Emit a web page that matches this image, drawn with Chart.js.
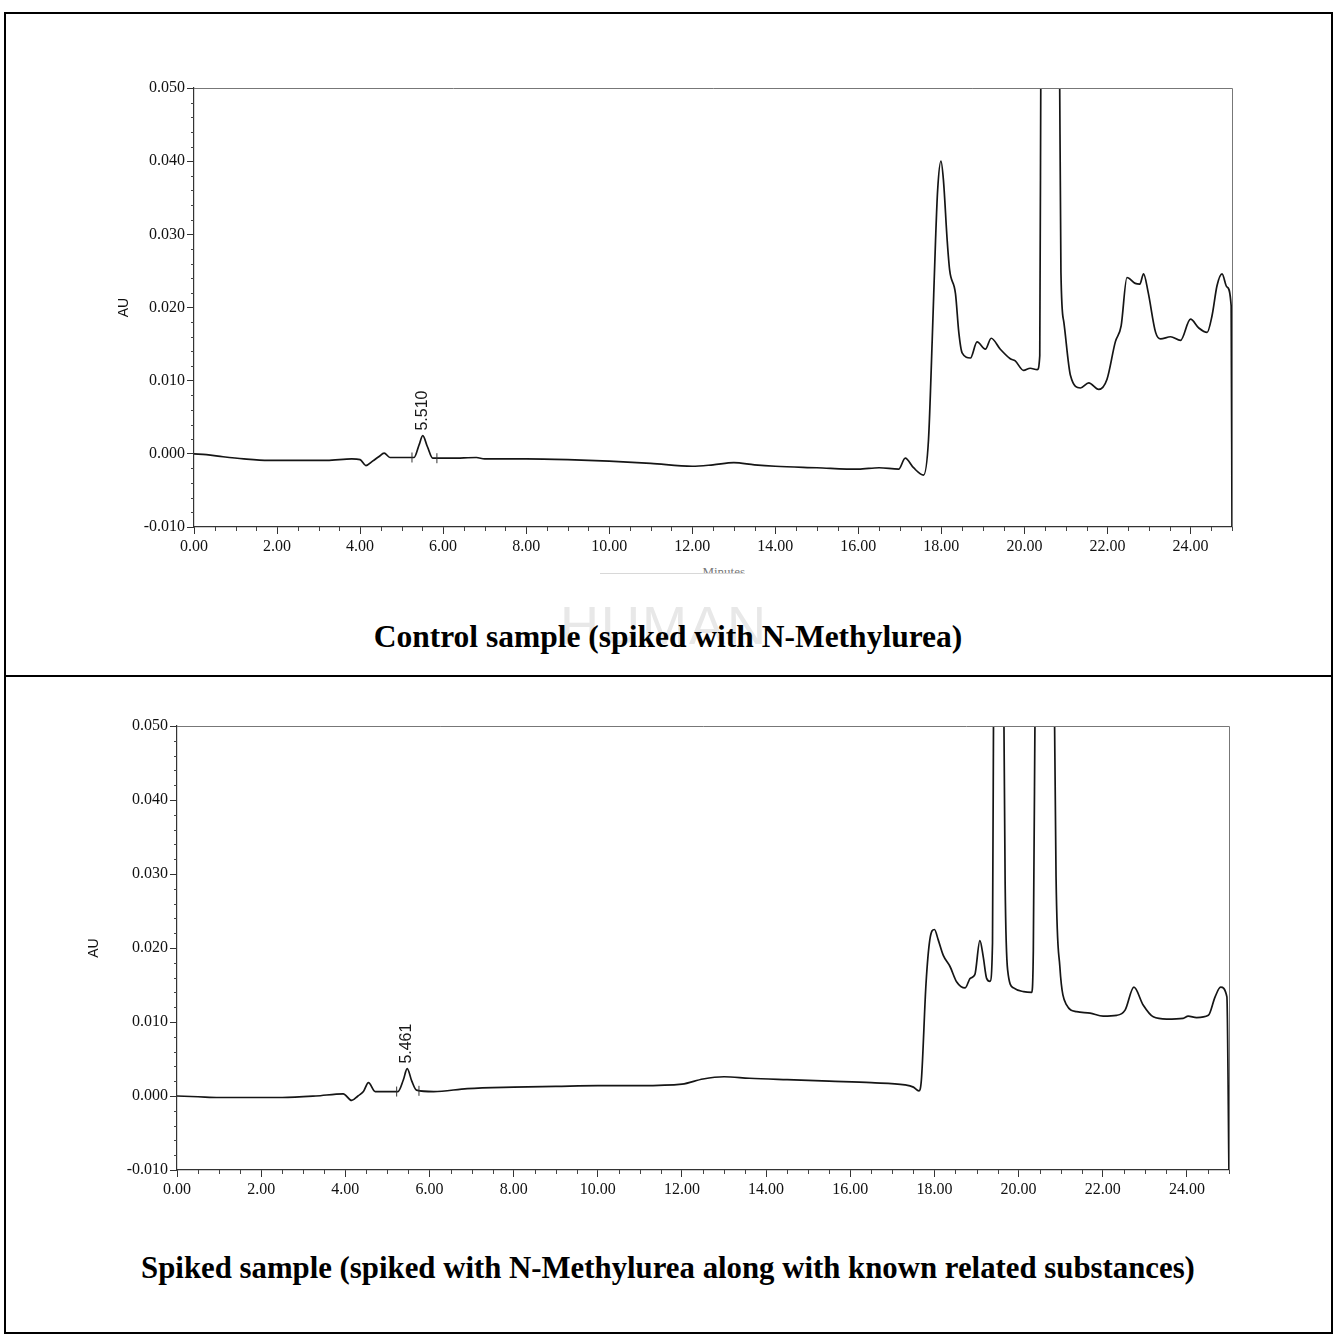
<!DOCTYPE html>
<html>
<head>
<meta charset="utf-8">
<script src="https://cdn.jsdelivr.net/npm/chart.js@4/dist/chart.umd.min.js"></script>
<style>
  html, body { margin:0; padding:0; background:#fff; }
  body { width:1336px; height:1338px; position:relative; overflow:hidden; }
  .line { position:absolute; background:#000; }
  .box { position:absolute; }
  .title { position:absolute; left:0; width:1336px; text-align:center;
           font-family:"Liberation Serif","Times New Roman",serif; font-weight:bold;
           font-size:31.5px; line-height:34px; color:#000; }
  .wm { position:absolute; left:560px; top:598px; width:230px; height:50px; overflow:hidden;
        font-family:"Liberation Sans",Arial,sans-serif; font-size:54px; line-height:54px;
        color:#e8e8e8; letter-spacing:2px; }
  .minutes { position:absolute; left:600px; top:563px; width:145px; height:10px; overflow:hidden;
             border-bottom:1px solid #d8d8d8; text-align:right;
             font-family:"Liberation Serif",serif; font-size:13px; line-height:18px; color:#777; }
</style>
</head>
<body>
<!-- outer table frame -->
<div class="line" style="left:4px;top:12px;width:1329px;height:2px"></div>
<div class="line" style="left:4px;top:1332px;width:1329px;height:2px"></div>
<div class="line" style="left:4px;top:12px;width:2px;height:1322px"></div>
<div class="line" style="left:1331px;top:12px;width:2px;height:1322px"></div>
<div class="line" style="left:4px;top:675px;width:1329px;height:2px"></div>

<div class="wm">HUMAN</div>
<div class="minutes">Minutes</div>

<div class="box" style="left:0;top:40px;width:1336px;height:540px"><canvas id="c1"></canvas></div>
<div class="box" style="left:0;top:690px;width:1336px;height:520px"><canvas id="c2"></canvas></div>

<div class="title" style="top:620px">Control sample (spiked with N-Methylurea)</div>
<div class="title" style="top:1251px;font-size:30.8px">Spiked sample (spiked with N-Methylurea along with known related substances)</div>

<script>
// ---------- DATA ----------
const xTickValues = [0, 2, 4, 6, 8, 10, 12, 14, 16, 18, 20, 22, 24];
const yTickValues = [-0.010, 0.000, 0.010, 0.020, 0.030, 0.040, 0.050];

// Control sample chromatogram (time in minutes, absorbance in AU)
const controlTime = [0.0,0.3,0.7,1.2,1.8,2.5,3.2,3.8,4.0,4.14,4.3,4.45,4.58,4.72,5.0,5.3,5.42,5.51,5.62,5.75,6.2,6.8,7.0,8.0,9.0,10.0,11.0,12.0,12.5,13.0,13.5,14.0,15.0,16.0,16.5,16.97,17.13,17.33,17.57,17.69,17.78,17.86,17.91,17.99,18.05,18.14,18.20,18.34,18.42,18.50,18.70,18.86,19.06,19.20,19.42,19.66,19.78,19.98,20.14,20.31,20.37,20.40,20.60,20.84,20.88,20.95,21.11,21.35,21.55,21.79,21.99,22.19,22.33,22.47,22.67,22.78,22.87,22.98,23.16,23.28,23.52,23.76,24.00,24.20,24.40,24.52,24.64,24.76,24.88,24.98,25.00];
const controlAU = [0.0000,-0.0001,-0.0004,-0.0007,-0.0009,-0.0009,-0.0009,-0.0007,-0.0008,-0.0016,-0.0010,-0.0004,0.0001,-0.0005,-0.0005,-0.0005,0.0012,0.0025,0.0010,-0.0006,-0.0006,-0.0005,-0.0007,-0.0007,-0.0008,-0.0010,-0.0013,-0.0017,-0.0015,-0.0012,-0.0015,-0.0017,-0.0019,-0.0021,-0.0019,-0.0021,-0.0006,-0.0019,-0.0029,0.0019,0.0156,0.0292,0.0360,0.0400,0.0374,0.0292,0.0251,0.0219,0.0166,0.0138,0.0131,0.0153,0.0143,0.0158,0.0143,0.0130,0.0127,0.0114,0.0117,0.0115,0.0134,0.0600,0.1500,0.0600,0.0248,0.0180,0.0107,0.0090,0.0097,0.0088,0.0102,0.0153,0.0175,0.0241,0.0233,0.0232,0.0246,0.0221,0.0166,0.0157,0.0160,0.0155,0.0184,0.0172,0.0166,0.0189,0.0230,0.0246,0.0228,0.0202,-0.0110];
const controlPeakTime = 5.510, controlPeakAU = 0.0025;
const controlPeakBounds = [[5.25,-0.0005],[5.85,-0.0006]];

// Spiked sample chromatogram
const spikedTime = [0.0,0.5,1.0,1.5,2.5,3.3,3.95,4.15,4.3,4.43,4.55,4.71,5.0,5.25,5.38,5.47,5.58,5.69,6.1,6.9,8.0,9.0,10.0,11.0,12.0,12.5,13.0,13.6,14.5,15.5,16.5,17.3,17.5,17.63,17.69,17.80,17.89,18.00,18.09,18.21,18.37,18.53,18.73,18.85,18.96,19.08,19.16,19.24,19.32,19.38,19.41,19.52,19.64,19.68,19.74,19.88,20.12,20.31,20.35,20.40,20.62,20.84,20.89,20.98,21.14,21.38,21.70,22.01,22.33,22.53,22.74,22.96,23.20,23.52,23.91,24.03,24.23,24.51,24.67,24.80,24.95,25.00];
const spikedAU = [0.0000,-0.0001,-0.0002,-0.0002,-0.0002,0.0000,0.0003,-0.0006,0.0000,0.0006,0.0018,0.0006,0.0006,0.0006,0.0022,0.0037,0.0020,0.0008,0.0006,0.0010,0.0012,0.0013,0.0014,0.0014,0.0016,0.0023,0.0026,0.0024,0.0022,0.0020,0.0018,0.0015,0.0012,0.0007,0.0022,0.0152,0.0211,0.0225,0.0211,0.0190,0.0175,0.0154,0.0146,0.0159,0.0164,0.0210,0.0188,0.0159,0.0155,0.0207,0.0600,0.1200,0.0600,0.0288,0.0170,0.0146,0.0141,0.0140,0.0197,0.0600,0.1500,0.0600,0.0296,0.0175,0.0123,0.0114,0.0112,0.0108,0.0109,0.0116,0.0147,0.0123,0.0107,0.0104,0.0105,0.0108,0.0106,0.0109,0.0134,0.0147,0.0134,-0.0110];
const spikedPeakTime = 5.461, spikedPeakAU = 0.0037;
const spikedPeakBounds = [[5.22,0.0006],[5.75,0.0007]];

// ---------- DRAWING ----------
const decorPlugin = {
  id: 'decor',
  afterDatasetsDraw(chart, args, opts) {
    const ctx = chart.ctx, ca = chart.chartArea;
    const xs = chart.scales.x, ys = chart.scales.y;
    ctx.save();
    // frame top/right
    ctx.strokeStyle = '#777'; ctx.lineWidth = 1;
    ctx.beginPath();
    ctx.moveTo(ca.left, ca.top + 0.5); ctx.lineTo(ca.right + 0.5, ca.top + 0.5);
    ctx.lineTo(ca.right + 0.5, ca.bottom);
    ctx.stroke();
    // minor ticks
    ctx.strokeStyle = '#444'; ctx.lineWidth = 1;
    ctx.beginPath();
    for (let i = 0; i <= 50; i++) {
      if (i % 4 === 0) continue;
      const px = Math.round(xs.getPixelForValue(i * 0.5)) + 0.5;
      ctx.moveTo(px, ca.bottom); ctx.lineTo(px, ca.bottom + 4);
    }
    for (let i = -5; i <= 25; i++) {
      if (i % 5 === 0) continue;
      const py = Math.round(ys.getPixelForValue(i * 0.002)) + 0.5;
      ctx.moveTo(ca.left - 3, py); ctx.lineTo(ca.left, py);
    }
    ctx.stroke();
    // integration marks
    ctx.strokeStyle = '#333'; ctx.lineWidth = 1;
    ctx.beginPath();
    opts.bounds.forEach(b => {
      const px = xs.getPixelForValue(b[0]), py = ys.getPixelForValue(b[1]);
      ctx.moveTo(px, py - 5); ctx.lineTo(px, py + 5);
    });
    ctx.stroke();
    // peak label
    const px = xs.getPixelForValue(opts.peakTime);
    const py = ys.getPixelForValue(opts.peakAU);
    ctx.translate(px, py - 5);
    ctx.rotate(-Math.PI / 2);
    ctx.fillStyle = '#1a1a1a';
    ctx.font = '16px "Liberation Sans", Arial, sans-serif';
    ctx.textAlign = 'left'; ctx.textBaseline = 'middle';
    ctx.fillText(opts.peakTime.toFixed(3), 0, 0);
    ctx.restore();
  }
};

function makeChart(id, time, au, pad, yWidth, peakTime, peakAU, bounds) {
  const pts = time.map((t, i) => ({ x: t, y: au[i] }));
  return new Chart(document.getElementById(id), {
    type: 'line',
    data: { datasets: [{ data: pts, borderColor: '#151515', borderWidth: 1.7,
      pointRadius: 0, cubicInterpolationMode: 'monotone', fill: false }] },
    options: {
      responsive: true, maintainAspectRatio: false, animation: false,
      layout: { padding: pad },
      plugins: { legend: { display: false }, tooltip: { enabled: false },
        decor: { peakTime, peakAU, bounds } },
      scales: {
        x: {
          type: 'linear', min: 0, max: 25,
          afterBuildTicks: s => { s.ticks = xTickValues.map(v => ({ value: v })); },
          afterFit: s => { s.height = 40; },
          border: { display: true, color: '#333', width: 1.2 },
          grid: { drawOnChartArea: false, drawTicks: true, tickLength: 7, color: '#333' },
          ticks: { padding: 3, maxRotation: 0, autoSkip: false, color: '#111',
            font: { family: '"Liberation Serif", serif', size: 16 },
            callback: v => Number(v).toFixed(2) }
        },
        y: {
          type: 'linear', min: -0.01, max: 0.05,
          afterBuildTicks: s => { s.ticks = yTickValues.map(v => ({ value: v })); },
          afterFit: s => { s.width = yWidth; },
          border: { display: true, color: '#333', width: 1.2 },
          grid: { drawOnChartArea: false, drawTicks: true, tickLength: 7, color: '#333' },
          title: { display: true, text: 'AU', color: '#111',
            font: { family: '"Liberation Sans", Arial, sans-serif', size: 14 }, padding: { top: 2, bottom: 2 } },
          ticks: { padding: 2, autoSkip: false, color: '#111',
            font: { family: '"Liberation Serif", serif', size: 16 },
            callback: v => Number(v).toFixed(3) }
        }
      }
    },
    plugins: [decorPlugin]
  });
}

makeChart('c1', controlTime, controlAU, { left: 114, right: 104, top: 48, bottom: 13 }, 80,
  controlPeakTime, controlPeakAU, controlPeakBounds);
makeChart('c2', spikedTime, spikedAU, { left: 84, right: 107, top: 36, bottom: 0 }, 93,
  spikedPeakTime, spikedPeakAU, spikedPeakBounds);
</script>
</body>
</html>
